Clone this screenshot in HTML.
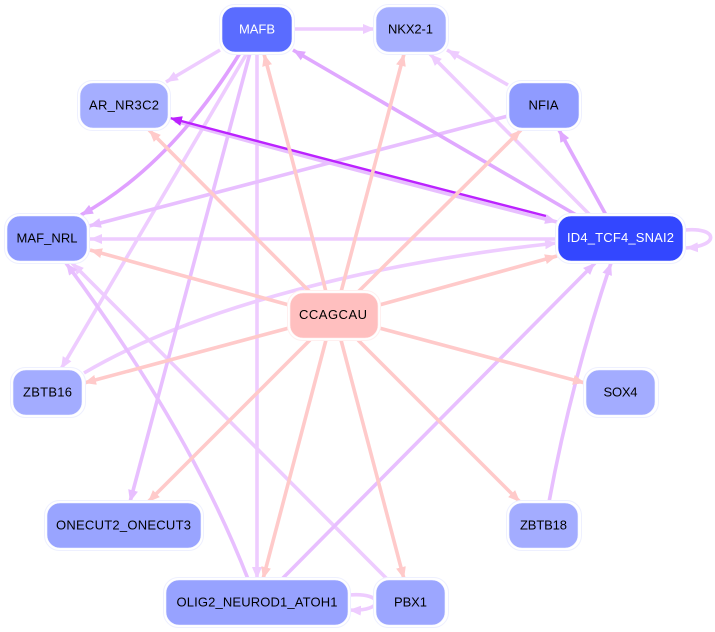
<!DOCTYPE html>
<html>
<head>
<meta charset="utf-8">
<style>
html,body{margin:0;padding:0;background:#fff;width:715px;height:632px;overflow:hidden}
svg{display:block}
text{font-family:"Liberation Sans",sans-serif;font-size:13px;text-anchor:middle;fill:#000}
.e{fill:none;stroke-width:3.6}
.o{fill:#fff;stroke:#eef0ff;stroke-width:1}
.n{stroke:#f2f3ff;stroke-width:.6}
</style>
</head>
<body>
<svg width="715" height="632" viewBox="0 0 715 632" xmlns="http://www.w3.org/2000/svg">
<defs>
<marker id="a" markerUnits="userSpaceOnUse" markerWidth="13" markerHeight="12" refX="12" refY="5.5" orient="auto"><path d="M0,0.5L12,5.5L0,10.5z" fill="#eeccff"/></marker>
<marker id="b" markerUnits="userSpaceOnUse" markerWidth="13" markerHeight="12" refX="12" refY="5.5" orient="auto"><path d="M0,0.5L12,5.5L0,10.5z" fill="#e8bfff"/></marker>
<marker id="c" markerUnits="userSpaceOnUse" markerWidth="13" markerHeight="12" refX="12" refY="5.5" orient="auto"><path d="M0,0.5L12,5.5L0,10.5z" fill="#e0a8ff"/></marker>
<marker id="d" markerUnits="userSpaceOnUse" markerWidth="13" markerHeight="12" refX="12" refY="5.5" orient="auto"><path d="M0,0.5L12,5.5L0,10.5z" fill="#bb22ff"/></marker>
<marker id="p" markerUnits="userSpaceOnUse" markerWidth="13" markerHeight="12" refX="12" refY="5.5" orient="auto"><path d="M0,0.5L12,5.5L0,10.5z" fill="#ffcaca"/></marker>
</defs>

<!-- light purple edges -->
<path class="e" stroke="#eeccff" d="M295,29L375,29" marker-end="url(#a)"/>
<path class="e" stroke="#eeccff" d="M220,50L166,82" marker-end="url(#a)"/>
<path class="e" stroke="#eeccff" d="M247,53L61,369" marker-end="url(#a)"/>
<path class="e" stroke="#eeccff" d="M257,53L257,579" marker-end="url(#a)"/>
<path class="e" stroke="#eeccff" d="M590,215L430,54" marker-end="url(#a)"/>
<path class="e" stroke="#eeccff" d="M508,85L447,50" marker-end="url(#a)"/>
<path class="e" stroke="#eeccff" d="M557,239L90,239" marker-end="url(#a)"/>
<path class="e" stroke="#eeccff" d="M84,373C200,305 380,262 557,243" marker-end="url(#a)"/>
<path class="e" stroke="#eeccff" d="M387,579L72,263" marker-end="url(#a)"/>
<path class="e" stroke="#eeccff" d="M685,230C718,227 720,246 686,248" marker-end="url(#a)"/>
<path class="e" stroke="#eeccff" d="M349,595C385,592 385,612 349,610" marker-end="url(#a)"/>

<!-- medium purple edges -->
<path class="e" stroke="#e8bfff" d="M250,53L130,502" marker-end="url(#b)"/>
<path class="e" stroke="#e8bfff" d="M508,116L89,226" marker-end="url(#b)"/>
<path class="e" stroke="#e8bfff" d="M282,579L595,263" marker-end="url(#b)"/>
<path class="e" stroke="#e8bfff" d="M549,502Q571,383 611,263" marker-end="url(#b)"/>
<path class="e" stroke="#e8bfff" d="M248,579Q190,430 66,263" marker-end="url(#b)"/>
<path class="e" stroke="#e8bfff" d="M175,121Q360,172 557,222" marker-end="url(#b)"/>

<!-- darker purple edges -->
<path class="e" stroke="#e0a8ff" d="M578,216L293,50" marker-end="url(#c)"/>
<path class="e" stroke="#e0a8ff" d="M606,215L559,130" marker-end="url(#c)"/>
<path class="e" stroke="#e0a0ff" d="M240,53Q170,166 81,215" marker-end="url(#c)"/>
<path class="e" stroke="#bb22ff" style="stroke-width:2.4" d="M546,216Q358,168 170,118" marker-end="url(#d)"/>

<!-- pink edges -->
<path class="e" stroke="#ffcaca" d="M326,292Q302,195 264,54" marker-end="url(#p)"/>
<path class="e" stroke="#ffcaca" d="M310,292L149,130" marker-end="url(#p)"/>
<path class="e" stroke="#ffcaca" d="M289,305L90,250" marker-end="url(#p)"/>
<path class="e" stroke="#ffcaca" d="M341,292L404,54" marker-end="url(#p)"/>
<path class="e" stroke="#ffcaca" d="M358,292L521,130" marker-end="url(#p)"/>
<path class="e" stroke="#ffcaca" d="M379,305L557,256" marker-end="url(#p)"/>
<path class="e" stroke="#ffcaca" d="M289,328L84,383" marker-end="url(#p)"/>
<path class="e" stroke="#ffcaca" d="M379,328L585,383" marker-end="url(#p)"/>
<path class="e" stroke="#ffcaca" d="M310,340L148,502" marker-end="url(#p)"/>
<path class="e" stroke="#ffcaca" d="M358,340L520,502" marker-end="url(#p)"/>
<path class="e" stroke="#ffcaca" d="M326,340L263,579" marker-end="url(#p)"/>
<path class="e" stroke="#ffcaca" d="M341,340L404,579" marker-end="url(#p)"/>

<!-- nodes -->
<rect class="o" x="219.5" y="4.5" width="75" height="50" rx="15"/>
<rect class="n" x="222" y="7" width="70" height="45" rx="13" fill="#5a6cff"/>
<text x="257" y="33.5" style="fill:#fff" textLength="36">MAFB</text>

<rect class="o" x="373.5" y="4.5" width="75" height="50" rx="15"/>
<rect class="n" x="376" y="7" width="70" height="45" rx="13" fill="#a5aeff"/>
<text x="410.5" y="33.5" textLength="45">NKX2-1</text>

<rect class="o" x="77.5" y="80.5" width="93" height="50" rx="15"/>
<rect class="n" x="80" y="83" width="88" height="45" rx="13" fill="#a5aeff"/>
<text x="124" y="109.5" textLength="70">AR_NR3C2</text>

<rect class="o" x="506.5" y="80.5" width="75" height="50" rx="15"/>
<rect class="n" x="509" y="83" width="70" height="45" rx="13" fill="#8f9bff"/>
<text x="543.5" y="109.5" textLength="30">NFIA</text>

<rect class="o" x="4.5" y="213.5" width="85" height="50" rx="15"/>
<rect class="n" x="7" y="216" width="80" height="45" rx="13" fill="#8f9bff"/>
<text x="47" y="242.5" textLength="61">MAF_NRL</text>

<rect class="o" x="555.5" y="213.5" width="130" height="50" rx="15"/>
<rect class="n" x="558" y="216" width="125" height="45" rx="13" fill="#3347ff"/>
<text x="620.5" y="242" style="fill:#fff" textLength="107">ID4_TCF4_SNAI2</text>

<rect class="o" x="287.5" y="290.5" width="93" height="50" rx="15" style="stroke:#fff0f0"/>
<rect class="n" x="290" y="293" width="88" height="45" rx="13" fill="#ffbfbf" style="stroke:#fff0f0"/>
<text x="333" y="319" textLength="68">CCAGCAU</text>

<rect class="o" x="10.5" y="367.5" width="75" height="50" rx="15"/>
<rect class="n" x="13" y="370" width="69" height="45" rx="13" fill="#a3acff"/>
<text x="47.5" y="396.5" textLength="49">ZBTB16</text>

<rect class="o" x="583.5" y="367.5" width="75" height="50" rx="15"/>
<rect class="n" x="586" y="370" width="69" height="45" rx="13" fill="#a3acff"/>
<text x="620.5" y="396.5" textLength="34">SOX4</text>

<rect class="o" x="44.5" y="500.5" width="159" height="50" rx="15"/>
<rect class="n" x="47" y="503" width="154" height="45" rx="13" fill="#99a4ff"/>
<text x="123.5" y="529.5" textLength="135">ONECUT2_ONECUT3</text>

<rect class="o" x="506.5" y="500.5" width="75" height="50" rx="15"/>
<rect class="n" x="509" y="503" width="69" height="45" rx="13" fill="#a3acff"/>
<text x="543.5" y="529.5" textLength="47">ZBTB18</text>

<rect class="o" x="163.5" y="577.5" width="187" height="50" rx="15"/>
<rect class="n" x="166" y="580" width="182" height="45" rx="13" fill="#97a2ff"/>
<text x="257" y="606.5" textLength="161">OLIG2_NEUROD1_ATOH1</text>

<rect class="o" x="373.5" y="577.5" width="75" height="50" rx="15"/>
<rect class="n" x="376" y="580" width="69" height="45" rx="13" fill="#9ca6ff"/>
<text x="410.5" y="606.5" textLength="33">PBX1</text>
</svg>
</body>
</html>
